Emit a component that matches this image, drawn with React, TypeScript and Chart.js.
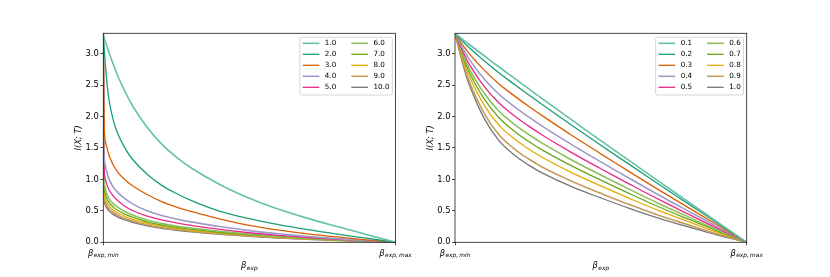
import React, { useEffect, useRef } from 'react';
import { Chart, registerables } from 'chart.js';

Chart.register(...registerables);

// ---------- data ----------
const I_MAX = 3.3219;
const Y_TITLE = 'I(X; T)';
const X_TITLE_MAIN = '\u03b2';
const X_TITLE_SUB = 'exp';
const X_TICK_VALUES = [0, 1];
const X_TICK_SUBS = ['exp,\u2009min', 'exp,\u2009max'];

const LEFT_LABELS = ['1.0', '2.0', '3.0', '4.0', '5.0', '6.0', '7.0', '8.0', '9.0', '10.0'];
const RIGHT_LABELS = ['0.1', '0.2', '0.3', '0.4', '0.5', '0.6', '0.7', '0.8', '0.9', '1.0'];

const LEFT_X = [0, 0.002, 0.005, 0.01, 0.02, 0.035, 0.05, 0.075, 0.1, 0.15, 0.2, 0.25, 0.3, 0.4, 0.5, 0.6, 0.7, 0.8, 0.9, 1.0];
const L1 = [3.32, 3.27, 3.22, 3.15, 3.01, 2.82, 2.64, 2.39, 2.17, 1.83, 1.56, 1.355, 1.185, 0.915, 0.7, 0.525, 0.38, 0.25, 0.125, 0];
const L2 = [3.32, 3.15, 2.95, 2.66, 2.25, 1.93, 1.72, 1.49, 1.32, 1.08, 0.905, 0.775, 0.665, 0.49, 0.375, 0.28, 0.2, 0.13, 0.065, 0];
const L3 = [3.32, 2.1, 1.68, 1.55, 1.38, 1.22, 1.11, 0.99, 0.9, 0.76, 0.645, 0.56, 0.49, 0.37, 0.27, 0.195, 0.135, 0.085, 0.04, 0];
const L4 = [3.32, 1.55, 1.27, 1.15, 1.0, 0.87, 0.79, 0.69, 0.61, 0.5, 0.425, 0.37, 0.325, 0.25, 0.185, 0.135, 0.093, 0.058, 0.027, 0];
const L5 = [3.32, 1.3, 1.05, 0.95, 0.83, 0.73, 0.66, 0.57, 0.505, 0.415, 0.355, 0.31, 0.27, 0.205, 0.152, 0.11, 0.076, 0.047, 0.022, 0];
const L6 = [3.32, 1.15, 0.9, 0.8, 0.69, 0.61, 0.555, 0.485, 0.435, 0.355, 0.3, 0.26, 0.228, 0.175, 0.13, 0.094, 0.064, 0.04, 0.019, 0];
const L7 = [3.32, 1.05, 0.8, 0.72, 0.63, 0.555, 0.505, 0.445, 0.4, 0.325, 0.275, 0.238, 0.208, 0.16, 0.119, 0.086, 0.059, 0.036, 0.017, 0];
const L8 = [3.32, 0.95, 0.72, 0.655, 0.575, 0.51, 0.465, 0.41, 0.365, 0.3, 0.253, 0.219, 0.191, 0.147, 0.109, 0.079, 0.054, 0.033, 0.016, 0];
const L9 = [3.32, 0.88, 0.66, 0.6, 0.53, 0.47, 0.43, 0.38, 0.34, 0.28, 0.236, 0.204, 0.178, 0.137, 0.102, 0.073, 0.05, 0.031, 0.015, 0];
const L10 = [3.32, 0.82, 0.61, 0.56, 0.495, 0.44, 0.4, 0.355, 0.318, 0.262, 0.221, 0.191, 0.167, 0.128, 0.095, 0.068, 0.047, 0.029, 0.014, 0];

const RIGHT_X = [0, 0.025, 0.05, 0.1, 0.15, 0.2, 0.25, 0.3, 0.4, 0.5, 0.6, 0.7, 0.8, 0.9, 1.0];
const R01 = [3.32, 3.23, 3.14, 2.965, 2.79, 2.62, 2.449, 2.28, 1.945, 1.615, 1.29, 0.965, 0.643, 0.321, 0];
const R02 = [3.32, 3.2, 3.088, 2.885, 2.696, 2.522, 2.352, 2.186, 1.86, 1.542, 1.23, 0.918, 0.611, 0.305, 0];
const R03 = [3.32, 3.145, 2.99, 2.736, 2.521, 2.339, 2.17, 2.009, 1.701, 1.406, 1.116, 0.83, 0.551, 0.274, 0];
const R04 = [3.32, 3.093, 2.899, 2.597, 2.357, 2.169, 2.0, 1.843, 1.553, 1.278, 1.011, 0.749, 0.496, 0.245, 0];
const R05 = [3.32, 3.049, 2.821, 2.477, 2.217, 2.022, 1.854, 1.702, 1.426, 1.169, 0.92, 0.678, 0.448, 0.22, 0];
const R06 = [3.32, 3.008, 2.75, 2.368, 2.088, 1.888, 1.721, 1.572, 1.309, 1.069, 0.837, 0.614, 0.404, 0.197, 0];
const R07 = [3.32, 2.975, 2.691, 2.278, 1.983, 1.778, 1.611, 1.466, 1.214, 0.987, 0.769, 0.561, 0.368, 0.179, 0];
const R08 = [3.32, 2.938, 2.626, 2.179, 1.866, 1.656, 1.49, 1.348, 1.108, 0.896, 0.694, 0.503, 0.329, 0.158, 0];
const R09 = [3.32, 2.89, 2.542, 2.05, 1.714, 1.498, 1.332, 1.194, 0.97, 0.778, 0.595, 0.427, 0.277, 0.131, 0];
const R10 = [3.32, 2.86, 2.49, 1.97, 1.62, 1.4, 1.235, 1.1, 0.885, 0.705, 0.535, 0.38, 0.245, 0.115, 0];

const LEFT_SERIES = [L1, L2, L3, L4, L5, L6, L7, L8, L9, L10];
const RIGHT_SERIES = [R01, R02, R03, R04, R05, R06, R07, R08, R09, R10];

const SERIES_COLORS = [
  '#66c2a5', '#1b9e77', '#d95f02', '#9e9ac8', '#e7298a',
  '#8dc05a', '#66a61e', '#e6ab02', '#c49c62', '#777777',
];
const SERIES_WIDTHS = [1.6, 1.3, 1.3, 1.6, 1.3, 1.6, 1.3, 1.3, 1.6, 1.3];

// ---------- styling ----------
const FONT = '"DejaVu Sans", "Liberation Sans", sans-serif';
const TICK_SIZE = 8.4;
const LEGEND_SIZE = 7.2;

function makeDatasets(xs: number[], series: number[][], labels: string[], smooth: 'monotone' | 'tension') {
  return series.map((vals, i) => ({
    label: labels[i],
    data: xs.map((x, j) => ({ x, y: vals[j] })),
    borderColor: SERIES_COLORS[i],
    backgroundColor: SERIES_COLORS[i],
    borderWidth: SERIES_WIDTHS[i],
    pointRadius: 0,
    fill: false,
    cubicInterpolationMode: smooth === 'monotone' ? 'monotone' : 'default',
    tension: smooth === 'monotone' ? 0 : 0.4,
  }));
}

function drawMath(ctx: CanvasRenderingContext2D, cx: number, baseY: number, main: string, sub: string, size: number) {
  const subSize = size * 0.7;
  ctx.font = `italic ${size}px ${FONT}`;
  const wm = ctx.measureText(main).width;
  ctx.font = `italic ${subSize}px ${FONT}`;
  const ws = ctx.measureText(sub).width;
  const x0 = cx - (wm + ws + 0.4) / 2;
  ctx.font = `italic ${size}px ${FONT}`;
  ctx.fillText(main, x0, baseY);
  ctx.font = `italic ${subSize}px ${FONT}`;
  ctx.fillText(sub, x0 + wm + 0.4, baseY + size * 0.22);
}

const decorPlugin = {
  id: 'decor',
  afterDraw(chart: any) {
    const ctx: CanvasRenderingContext2D = chart.ctx;
    const a = chart.chartArea;
    ctx.save();
    ctx.strokeStyle = '#1a1a1a';
    ctx.lineWidth = 0.8;
    ctx.strokeRect(a.left, a.top, a.right - a.left, a.bottom - a.top);

    ctx.fillStyle = '#000';
    ctx.textAlign = 'left';
    ctx.textBaseline = 'alphabetic';
    const xs = chart.scales.x;
    X_TICK_VALUES.forEach((v, i) => {
      drawMath(ctx, xs.getPixelForValue(v), a.bottom + 13.2, X_TITLE_MAIN, X_TICK_SUBS[i], TICK_SIZE);
    });
    drawMath(ctx, (a.left + a.right) / 2, a.bottom + 25.6, X_TITLE_MAIN, X_TITLE_SUB, TICK_SIZE);

    const ds = chart.data.datasets;
    ctx.font = `${LEGEND_SIZE}px ${FONT}`;
    const rows = 5;
    const c1 = ds.slice(0, rows);
    const c2 = ds.slice(rows);
    const w1 = Math.max(...c1.map((d: any) => ctx.measureText(d.label).width));
    const w2 = Math.max(...c2.map((d: any) => ctx.measureText(d.label).width));
    const pad = 2.8, lineLen = 16.7, gap = 5.5, colGap = 15;
    const boxW = pad + lineLen + gap + w1 + colGap + lineLen + gap + w2 + pad;
    const boxRight = a.right - 3.2;
    const boxLeft = boxRight - boxW;
    const boxTop = a.top + 4;
    const boxH = 57.7;
    const r = 2;
    ctx.beginPath();
    ctx.moveTo(boxLeft + r, boxTop);
    ctx.lineTo(boxRight - r, boxTop);
    ctx.quadraticCurveTo(boxRight, boxTop, boxRight, boxTop + r);
    ctx.lineTo(boxRight, boxTop + boxH - r);
    ctx.quadraticCurveTo(boxRight, boxTop + boxH, boxRight - r, boxTop + boxH);
    ctx.lineTo(boxLeft + r, boxTop + boxH);
    ctx.quadraticCurveTo(boxLeft, boxTop + boxH, boxLeft, boxTop + boxH - r);
    ctx.lineTo(boxLeft, boxTop + r);
    ctx.quadraticCurveTo(boxLeft, boxTop, boxLeft + r, boxTop);
    ctx.closePath();
    ctx.fillStyle = 'rgba(255,255,255,0.8)';
    ctx.fill();
    ctx.strokeStyle = '#cccccc';
    ctx.lineWidth = 0.8;
    ctx.stroke();

    ctx.textBaseline = 'middle';
    ctx.textAlign = 'left';
    const drawCol = (items: any[], x: number) => {
      items.forEach((d: any, i: number) => {
        const y = boxTop + 6 + 11 * i;
        ctx.strokeStyle = d.borderColor;
        ctx.lineWidth = d.borderWidth;
        ctx.beginPath();
        ctx.moveTo(x, y);
        ctx.lineTo(x + lineLen, y);
        ctx.stroke();
        ctx.fillStyle = '#000';
        ctx.font = `${LEGEND_SIZE}px ${FONT}`;
        ctx.fillText(d.label, x + lineLen + gap, y + 0.3);
      });
    };
    drawCol(c1, boxLeft + pad);
    drawCol(c2, boxLeft + pad + lineLen + gap + w1 + colGap);
    ctx.restore();
  },
};

function buildConfig(datasets: any[], yWidth: number, rightPad: number, titlePad: number): any {
  const grid = {
    display: true,
    drawOnChartArea: false,
    drawTicks: true,
    tickLength: 3,
    tickColor: '#1a1a1a',
    tickWidth: 0.8,
  };
  return {
    type: 'line',
    data: { datasets },
    options: {
      animation: false,
      responsive: false,
      devicePixelRatio: 1,
      layout: { padding: { left: 0, right: rightPad, top: 33.3, bottom: 0 } },
      plugins: { legend: { display: false }, tooltip: { enabled: false } },
      elements: { point: { radius: 0 } },
      scales: {
        x: {
          type: 'linear',
          min: 0,
          max: 1,
          ticks: { display: false, stepSize: 1 },
          grid,
          border: { display: false },
          afterFit: (s: any) => { s.height = 34.7; },
        },
        y: {
          type: 'linear',
          min: 0,
          max: I_MAX,
          ticks: {
            stepSize: 0.5,
            includeBounds: false,
            callback: (v: any) => Number(v).toFixed(1),
            font: { family: FONT, size: TICK_SIZE },
            color: '#000',
            padding: 1.5,
          },
          grid,
          border: { display: false },
          title: {
            display: true,
            text: Y_TITLE,
            color: '#000',
            font: { family: FONT, size: TICK_SIZE, style: 'italic' },
            padding: { top: titlePad, bottom: 0 },
          },
          afterFit: (s: any) => { s.width = yWidth; },
        },
      },
    },
    plugins: [decorPlugin],
  };
}

export default function App() {
  const leftRef = useRef<HTMLCanvasElement>(null);
  const rightRef = useRef<HTMLCanvasElement>(null);

  useEffect(() => {
    document.body.style.margin = '0';
    const c1 = new Chart(leftRef.current as HTMLCanvasElement,
      buildConfig(makeDatasets(LEFT_X, LEFT_SERIES, LEFT_LABELS, 'monotone'), 103.3, 19.5, 74));
    const c2 = new Chart(rightRef.current as HTMLCanvasElement,
      buildConfig(makeDatasets(RIGHT_X, RIGHT_SERIES, RIGHT_LABELS, 'tension'), 40, 83.3, 10.7));
    return () => { c1.destroy(); c2.destroy(); };
  }, []);

  return (
    <div style={{ position: 'relative', width: 830, height: 277, background: '#fff' }}>
      <canvas ref={leftRef} width={415} height={277}
        style={{ position: 'absolute', left: 0, top: 0, width: 415, height: 277 }} />
      <canvas ref={rightRef} width={415} height={277}
        style={{ position: 'absolute', left: 415, top: 0, width: 415, height: 277 }} />
    </div>
  );
}
